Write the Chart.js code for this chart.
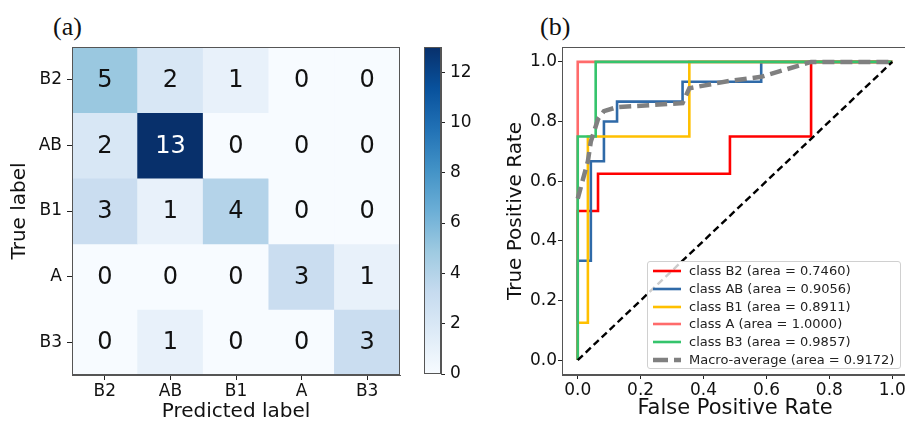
<!DOCTYPE html>
<html>
<head>
<meta charset="utf-8">
<script src="https://cdn.jsdelivr.net/npm/chart.js@4.4.1/dist/chart.umd.min.js"></script>
<style>
  body { margin: 0; width: 905px; height: 424px; overflow: hidden; background: #fff; position: relative; font-family: "DejaVu Sans", sans-serif; }
  canvas { position: absolute; top: 0; }
  .tag { position: absolute; font-family: "Liberation Serif", serif; font-size: 26px; line-height: 1; color: #111; }
  #legend { position: absolute; left: 647px; top: 261px; width: 254px; height: 108px; box-sizing: border-box;
            background: rgba(255,255,255,0.8); border: 1px solid #d0d0d0; border-radius: 3px; font-size: 13px; color: #222; }
  #legend .row { height: 17.8px; line-height: 17.8px; position: relative; white-space: nowrap; }
  #legend svg { position: absolute; left: 4px; top: 6px; }
  #legend span { position: absolute; left: 41px; top: 0; }
</style>
</head>
<body>
<div class="tag" style="left:53px;top:14px">(a)</div>
<div class="tag" style="left:540px;top:14px">(b)</div>
<canvas id="cm" width="410" height="424" style="left:0"></canvas>
<canvas id="cb" width="80" height="424" style="left:410px"></canvas>
<canvas id="roc" width="440" height="424" style="left:480px"></canvas>
<div id="legend"></div>
<script>
// confusion matrix (rows = true label, cols = predicted label)
const classLabels = ["B2", "AB", "B1", "A", "B3"];
const matrix = [
  [5, 2, 1, 0, 0],
  [2, 13, 0, 0, 0],
  [3, 1, 4, 0, 0],
  [0, 0, 0, 3, 1],
  [0, 1, 0, 0, 3]
];
const cbMax = 13;
const cbTicks = [0, 2, 4, 6, 8, 10, 12];

// ROC curves
const rocNames = ["class B2", "class AB", "class B1", "class A", "class B3"];
const rocAuc = ["0.7460", "0.9056", "0.8911", "1.0000", "0.9857"];
const macroAuc = "0.9172";
const fprB2 = [0, 0, 0.0645, 0.0645, 0.4839, 0.4839, 0.7419, 0.7419, 1];
const tprB2 = [0, 0.5, 0.5, 0.625, 0.625, 0.75, 0.75, 1, 1];
const fprAB = [0, 0, 0.0417, 0.0417, 0.0833, 0.0833, 0.125, 0.125, 0.3333, 0.3333, 0.5833, 0.5833, 1];
const tprAB = [0, 0.3333, 0.3333, 0.6667, 0.6667, 0.8, 0.8, 0.8667, 0.8667, 0.9333, 0.9333, 1, 1];
const fprB1 = [0, 0, 0.0323, 0.0323, 0.3548, 0.3548, 1];
const tprB1 = [0, 0.125, 0.125, 0.75, 0.75, 1, 1];
const fprA = [0, 0, 1];
const tprA = [0, 1, 1];
const fprB3 = [0, 0, 0.0571, 0.0571, 1];
const tprB3 = [0, 0.75, 0.75, 1, 1];
const macroFpr = [0, 0.0323, 0.0417, 0.0571, 0.0645, 0.0833, 0.125, 0.3333, 0.3548, 0.4839, 0.5833, 0.7419, 1];
const macroTpr = [0.5417, 0.6667, 0.7333, 0.7833, 0.8083, 0.835, 0.8483, 0.8617, 0.9117, 0.9367, 0.95, 1, 1];
const diagX = [0, 1];
const diagY = [0, 1];
const rateTicks = [0, 0.2, 0.4, 0.6, 0.8, 1];

const rocColors = ["#ff0000", "#2f6aa8", "#ffc000", "#ff6b6b", "#35c46c"];
const macroColor = "#808080";
const txt = "#111";
const spine = "#555";

// matplotlib "Blues"
const bluesStops = [[247,251,255],[222,235,247],[198,219,239],[158,202,225],[107,174,214],[66,146,198],[33,113,181],[8,81,156],[8,48,107]];
function blues(t) {
  t = Math.max(0, Math.min(1, t));
  const p = t * 8, i = Math.min(7, Math.floor(p)), f = p - i;
  const a = bluesStops[i], b = bluesStops[i + 1];
  return "rgb(" + a.map((v, k) => Math.round(v + (b[k] - v) * f)).join(",") + ")";
}

Chart.defaults.font.family = "'DejaVu Sans', sans-serif";
Chart.defaults.color = txt;
Chart.defaults.animation = false;

const boxPlugin = {
  id: "box",
  afterDraw(chart) {
    const a = chart.chartArea, ctx = chart.ctx;
    ctx.save();
    ctx.strokeStyle = spine;
    ctx.lineWidth = 1;
    ctx.strokeRect(Math.round(a.left) + 0.5, Math.round(a.top) + 0.5, Math.round(a.right - a.left) - 1, Math.round(a.bottom - a.top) - 1);
    ctx.restore();
  }
};

const cellText = {
  id: "cellText",
  afterDatasetsDraw(chart) {
    const ctx = chart.ctx, xs = chart.scales.x, ys = chart.scales.y;
    ctx.save();
    ctx.font = "24px 'DejaVu Sans'";
    ctx.textAlign = "center";
    ctx.textBaseline = "middle";
    matrix.forEach((row, r) => row.forEach((v, c) => {
      ctx.fillStyle = v > cbMax / 2 ? "#fff" : "#111";
      ctx.fillText(String(v), xs.getPixelForValue(c), ys.getPixelForValue(r + 0.5) + 1);
    }));
    ctx.restore();
  }
};

// (a) confusion matrix
new Chart(document.getElementById("cm"), {
  type: "bar",
  data: {
    labels: classLabels,
    datasets: matrix.map((row, r) => ({
      data: row.map(() => [r, r + 1]),
      backgroundColor: row.map(v => blues(v / cbMax)),
      borderWidth: 0,
      grouped: false,
      barPercentage: 1,
      categoryPercentage: 1
    }))
  },
  options: {
    responsive: false,
    layout: { padding: { top: 47, right: 10, left: 0, bottom: 0 } },
    plugins: { legend: { display: false }, tooltip: { enabled: false } },
    scales: {
      x: {
        type: "category",
        offset: true,
        grid: { offset: false, drawOnChartArea: false, tickLength: 5, color: "#222" },
        border: { color: spine },
        ticks: { font: { size: 17 }, padding: 1, maxRotation: 0 },
        title: { display: true, text: "Predicted label", font: { size: 20 }, padding: { top: 0, bottom: 0 } },
        afterFit: s => { s.height = 49; }
      },
      y: {
        type: "linear",
        min: 0, max: 5, reverse: true,
        afterBuildTicks: s => { s.ticks = [0.5, 1.5, 2.5, 3.5, 4.5].map(v => ({ value: v })); },
        grid: { drawOnChartArea: false, tickLength: 5, color: "#222" },
        border: { color: spine },
        ticks: { font: { size: 17 }, padding: 5, callback: (v, i) => classLabels[i] },
        title: { display: true, text: "True label", font: { size: 20 }, padding: { top: 8, bottom: 0 } },
        afterFit: s => { s.width = 72; }
      }
    }
  },
  plugins: [cellText, boxPlugin]
});

// colour bar
new Chart(document.getElementById("cb"), {
  type: "bar",
  data: {
    labels: [""],
    datasets: [{
      data: [[0, cbMax]],
      borderWidth: 0,
      barPercentage: 1,
      categoryPercentage: 1,
      backgroundColor: ctx => {
        const a = ctx.chart.chartArea;
        if (!a) return blues(0.5);
        const g = ctx.chart.ctx.createLinearGradient(0, a.bottom, 0, a.top);
        bluesStops.forEach((s, i) => g.addColorStop(i / 8, "rgb(" + s.join(",") + ")"));
        return g;
      }
    }]
  },
  options: {
    responsive: false,
    layout: { padding: { top: 47, left: 14, right: 0, bottom: 50 } },
    plugins: { legend: { display: false }, tooltip: { enabled: false } },
    scales: {
      x: { display: false },
      y: {
        position: "right",
        min: 0, max: cbMax,
        afterBuildTicks: s => { s.ticks = cbTicks.map(v => ({ value: v })); },
        grid: { drawOnChartArea: false, tickLength: 4, color: "#222" },
        border: { color: spine },
        ticks: { font: { size: 17 }, padding: 5 },
        afterFit: s => { s.width = 49; }
      }
    }
  },
  plugins: [boxPlugin]
});

// (b) ROC curves
const toPts = (xs, ys) => xs.map((x, i) => ({ x: x, y: ys[i] }));
const rocSeries = [[fprB2, tprB2], [fprAB, tprAB], [fprB1, tprB1], [fprA, tprA], [fprB3, tprB3]];
const rocSets = rocSeries.map((s, i) => ({
  label: rocNames[i],
  data: toPts(s[0], s[1]),
  borderColor: rocColors[i],
  borderWidth: 2.6,
  order: 10 - i
}));
rocSets.push({ label: "Macro-average", data: toPts(macroFpr, macroTpr), borderColor: macroColor, borderWidth: 4.5, borderDash: [12, 6], order: 2 });
rocSets.push({ label: "chance", data: toPts(diagX, diagY), borderColor: "#000", borderWidth: 2.4, borderDash: [7, 4], order: 1 });
rocSets.forEach(d => { d.showLine = true; d.pointRadius = 0; d.fill = false; d.tension = 0; d.borderJoinStyle = "miter"; d.borderCapStyle = "butt"; });

const rateAxis = (titleText, size, pad, fit) => ({
  type: "linear",
  min: -0.05, max: 1.05,
  afterBuildTicks: s => { s.ticks = rateTicks.map(v => ({ value: v })); },
  grid: { drawOnChartArea: false, tickLength: 4, color: "#222" },
  border: { color: spine },
  ticks: { font: { size: 17 }, padding: 1, maxRotation: 0, callback: v => v.toFixed(1) },
  title: { display: true, text: titleText, font: { size: size }, padding: pad },
  afterFit: fit
});

new Chart(document.getElementById("roc"), {
  type: "scatter",
  data: { datasets: rocSets },
  options: {
    responsive: false,
    layout: { padding: { top: 47, right: 12, left: 0, bottom: 0 } },
    plugins: { legend: { display: false }, tooltip: { enabled: false } },
    scales: {
      x: rateAxis("False Positive Rate", 21, { top: 0, bottom: 3 }, s => { s.height = 49; }),
      y: rateAxis("True Positive Rate", 20, { top: 24, bottom: 0 }, s => { s.width = 82; })
    }
  },
  plugins: [boxPlugin]
});

// legend
const legend = document.getElementById("legend");
const legendRows = rocNames.map((n, i) => ({ text: n + " (area = " + rocAuc[i] + ")", color: rocColors[i], w: 2.6, dash: "" }));
legendRows.push({ text: "Macro-average (area = " + macroAuc + ")", color: macroColor, w: 4.5, dash: "15 6" });
legendRows.forEach(r => {
  const row = document.createElement("div");
  row.className = "row";
  row.innerHTML = '<svg width="30" height="6"><line x1="1" y1="3" x2="29" y2="3" stroke="' + r.color +
    '" stroke-width="' + r.w + '"' + (r.dash ? ' stroke-dasharray="' + r.dash + '"' : '') + '/></svg><span></span>';
  row.querySelector("span").textContent = r.text;
  legend.appendChild(row);
});
</script>
</body>
</html>
